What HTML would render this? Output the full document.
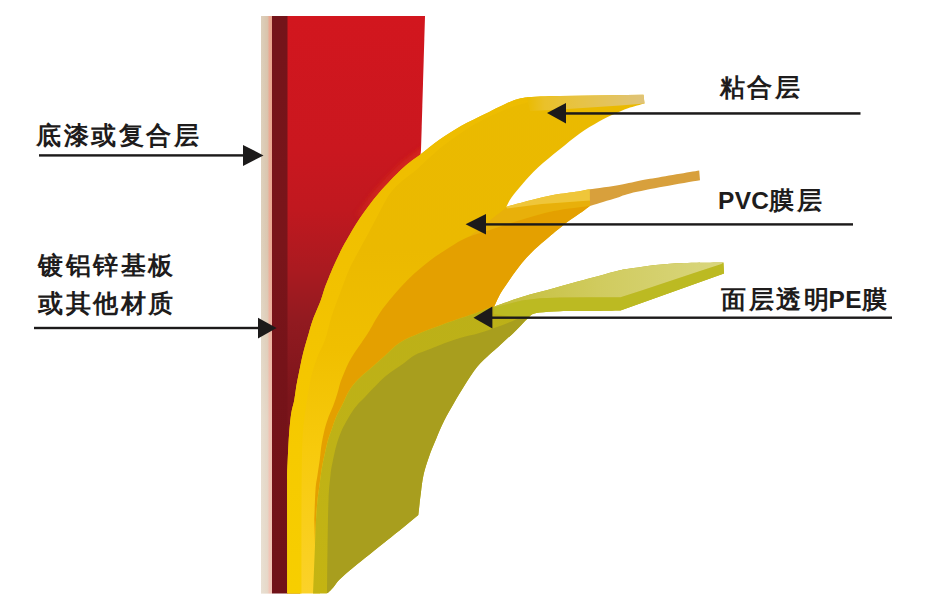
<!DOCTYPE html>
<html><head><meta charset="utf-8"><style>
html,body{margin:0;padding:0;background:#fff;}
body{width:927px;height:605px;position:relative;overflow:hidden;font-family:"Liberation Sans",sans-serif;}
svg{position:absolute;left:0;top:0;filter:blur(0.4px);}
.l{letter-spacing:0.3px;}
.t{position:absolute;color:#1e1c1c;font-size:24.5px;line-height:1;white-space:nowrap;font-weight:bold;letter-spacing:2.6px;}
</style></head><body>
<svg width="927" height="605" viewBox="0 0 927 605">
<defs>
<linearGradient id="gBeige" x1="0" x2="1" y1="0" y2="0">
 <stop offset="0" stop-color="#ddd0bc"/><stop offset="0.6" stop-color="#d9c3ab"/><stop offset="0.75" stop-color="#eaa892"/><stop offset="1" stop-color="#e9a48c"/>
</linearGradient>
<linearGradient id="gRed" x1="0" x2="0" y1="16" y2="594" gradientUnits="userSpaceOnUse">
 <stop offset="0" stop-color="#d2161e"/><stop offset="0.232" stop-color="#ca171f"/><stop offset="0.336" stop-color="#c0181f"/><stop offset="0.44" stop-color="#aa1a20"/><stop offset="0.526" stop-color="#921a20"/><stop offset="0.66" stop-color="#7c151b"/><stop offset="1" stop-color="#74131a"/>
</linearGradient>
<linearGradient id="gDark" x1="0" x2="0" y1="16" y2="594" gradientUnits="userSpaceOnUse">
 <stop offset="0" stop-color="#74141a"/><stop offset="0.4" stop-color="#7a151a"/><stop offset="0.6" stop-color="#761319"/><stop offset="1" stop-color="#701218"/>
</linearGradient>
<linearGradient id="gTip" x1="527" x2="645" y1="0" y2="0" gradientUnits="userSpaceOnUse">
 <stop offset="0" stop-color="#eabb00"/><stop offset="0.15" stop-color="#eac12a"/><stop offset="0.45" stop-color="#e7c345"/><stop offset="1" stop-color="#dfc379"/>
</linearGradient>
<linearGradient id="gYel" x1="0" x2="0" y1="95" y2="594" gradientUnits="userSpaceOnUse">
 <stop offset="0" stop-color="#eaba00"/><stop offset="0.31" stop-color="#ebb900"/><stop offset="0.51" stop-color="#f0bf00"/><stop offset="0.71" stop-color="#f7ca0c"/><stop offset="1" stop-color="#fbd229"/>
</linearGradient>
<linearGradient id="gHL" x1="0" x2="0" y1="95" y2="594" gradientUnits="userSpaceOnUse">
 <stop offset="0" stop-color="#edbc00"/><stop offset="0.41" stop-color="#f2c200"/><stop offset="0.71" stop-color="#f6ca00"/><stop offset="1" stop-color="#f7ce00"/>
</linearGradient>
<linearGradient id="gYG" x1="0" x2="0" y1="300" y2="594" gradientUnits="userSpaceOnUse">
 <stop offset="0" stop-color="#bcb018"/><stop offset="0.5" stop-color="#bfb216"/><stop offset="1" stop-color="#c4b412"/>
</linearGradient>
<linearGradient id="gPEtop" x1="494" x2="724" y1="0" y2="0" gradientUnits="userSpaceOnUse">
 <stop offset="0" stop-color="#c4be3a"/><stop offset="0.45" stop-color="#d0cb5e"/><stop offset="1" stop-color="#d9d67e"/>
</linearGradient>
<filter id="fb" x="-20%" y="-20%" width="140%" height="140%"><feGaussianBlur stdDeviation="2"/></filter>
<clipPath id="cpRed"><path d="M287 16 L421 16 L421 160 L400 240 L287 240 Z"/></clipPath>
<linearGradient id="gGlowFade" x1="0" x2="0" y1="130" y2="235" gradientUnits="userSpaceOnUse"><stop offset="0" stop-color="#fff"/><stop offset="0.6" stop-color="#fff"/><stop offset="1" stop-color="#000"/></linearGradient>
<mask id="mGlow"><rect x="0" y="0" width="927" height="605" fill="url(#gGlowFade)"/></mask>
<linearGradient id="gBeigeV" x1="0" x2="0" y1="16" y2="594" gradientUnits="userSpaceOnUse">
 <stop offset="0" stop-color="#fff" stop-opacity="0"/><stop offset="0.4" stop-color="#fff" stop-opacity="0.05"/><stop offset="0.7" stop-color="#fff" stop-opacity="0.3"/><stop offset="1" stop-color="#fff" stop-opacity="0.35"/>
</linearGradient>
</defs>
<rect x="261" y="16" width="11" height="577.5" fill="url(#gBeige)"/>
<rect x="261" y="16" width="11" height="577.5" fill="url(#gBeigeV)"/>
<path d="M287 16 L425 16 L421 150 L400 300 L300 593.5 L287 593.5 Z" fill="url(#gRed)"/>
<rect x="272" y="16" width="15.5" height="577.5" fill="url(#gDark)"/>
<path d="M360 218 C363.2 213.8 371.8 201.3 379 193 C386.2 184.7 396 174.5 403 168 C410 161.5 415 158.7 421 154 C427 149.3 432.3 144.7 439 140 C445.7 135.3 453.2 130.4 461 126 C468.8 121.6 477.7 117.6 486 113.5 C494.3 109.4 504 104.2 511 101.5 C518 98.8 519.8 98.2 528 97.3 C536.2 96.4 554.7 96.2 560 96" fill="none" stroke="#e03a16" stroke-width="10" stroke-opacity="0.4" filter="url(#fb)" clip-path="url(#cpRed)" mask="url(#mGlow)"/>
<path d="M287.3 593.5 C287.3 584.6 287.2 558.9 287.2 540 C287.2 521.1 287.1 492.8 287.2 480 C287.3 467.2 287.4 468.7 287.6 463 C287.8 457.3 288.1 451.5 288.4 446 C288.7 440.5 288.9 435.5 289.4 430 C289.9 424.5 290.5 418 291.3 413 C292.1 408 293.5 404.5 294.3 400 C295.1 395.5 295.5 390.7 296.3 386.2 C297.1 381.7 298 377.4 298.9 373 C299.8 368.6 300.6 364.1 301.6 359.7 C302.6 355.3 303.7 350.9 304.9 346.5 C306.1 342.1 307.5 337.6 308.8 333.2 C310.1 328.8 310.8 325.5 312.8 320 C314.8 314.5 318.9 305.4 320.9 300 C322.9 294.6 323.6 291.3 324.9 287.6 C326.2 283.9 327.3 281.3 328.8 277.7 C330.3 274.1 332 269.9 333.8 265.8 C335.6 261.7 337.7 257.2 339.8 252.9 C341.9 248.6 343.3 245.8 346.7 240 C350.1 234.2 354.6 225.8 360 218 C365.4 210.2 371.8 201.3 379 193 C386.2 184.7 396 174.5 403 168 C410 161.5 415 158.7 421 154 C427 149.3 432.3 144.7 439 140 C445.7 135.3 453.2 130.4 461 126 C468.8 121.6 477.7 117.6 486 113.5 C494.3 109.4 504 104.2 511 101.5 C518 98.8 519.8 98.2 528 97.3 C536.2 96.4 554.7 96.2 560 96 L643.5 94.7 L644.5 103.5 C641.8 104.3 633 106.5 628 108.3 C623 110.1 619.2 111.9 614.4 114.1 C609.6 116.3 604.8 118.2 599 121.5 C593.2 124.8 586 129 579.4 133.7 C572.8 138.4 566.4 144 559.5 149.6 C552.6 155.2 544.2 161.8 538 167.5 C531.8 173.2 526.9 179 522.5 184 C518.1 189 514.2 193.7 511.5 197.5 C508.8 201.3 507.2 205.2 506.3 206.7 C510.4 205.6 522.6 202.2 530.6 200.2 C538.6 198.2 546.4 196.3 554.3 194.8 C562.2 193.3 572.1 192.3 578 191.4 C583.9 190.5 587.8 189.7 589.8 189.3 L590 206 C589.1 206.6 587 208.2 584.9 209.7 C582.8 211.2 580.5 212.8 577.4 215 C574.2 217.2 570.7 219.3 566 223 C561.3 226.7 554.2 232.6 549 237 C543.8 241.4 539.1 245.2 534.5 249.6 C529.9 254 525.6 258.5 521.5 263.5 C517.4 268.5 513.3 274.4 509.8 279.4 C506.3 284.4 503.2 288.8 500.6 293.3 C498 297.8 495.3 304.4 494.2 306.6 L400 360 L330 500 L320 593.5 Z" fill="url(#gYel)"/>
<path d="M287.3 593.5 C287.3 584.6 287.2 558.9 287.2 540 C287.2 521.1 287.1 492.8 287.2 480 C287.3 467.2 287.4 468.7 287.6 463 C287.8 457.3 288.1 451.5 288.4 446 C288.7 440.5 288.9 435.5 289.4 430 C289.9 424.5 290.5 418 291.3 413 C292.1 408 293.5 404.5 294.3 400 C295.1 395.5 295.5 390.7 296.3 386.2 C297.1 381.7 298 377.4 298.9 373 C299.8 368.6 300.6 364.1 301.6 359.7 C302.6 355.3 303.7 350.9 304.9 346.5 C306.1 342.1 307.5 337.6 308.8 333.2 C310.1 328.8 310.8 325.5 312.8 320 C314.8 314.5 318.9 305.4 320.9 300 C322.9 294.6 323.6 291.3 324.9 287.6 C326.2 283.9 327.3 281.3 328.8 277.7 C330.3 274.1 332 269.9 333.8 265.8 C335.6 261.7 337.7 257.2 339.8 252.9 C341.9 248.6 343.3 245.8 346.7 240 C350.1 234.2 354.6 225.8 360 218 C365.4 210.2 371.8 201.3 379 193 C386.2 184.7 396 174.5 403 168 C410 161.5 415 158.7 421 154 C427 149.3 432.3 144.7 439 140 C445.7 135.3 453.2 130.4 461 126 C468.8 121.6 477.7 117.6 486 113.5 C494.3 109.4 504 104.2 511 101.5 C518 98.8 519.8 98.2 528 97.3 C536.2 96.4 554.7 96.2 560 96 L533 101 C530 101.8 521.3 103.8 515 106 C508.7 108.2 501.7 111 495 114 C488.3 117 481.2 120.5 475 124 C468.8 127.5 463.4 131.3 458 135 C452.6 138.7 447.6 142.3 442.9 146 C438.2 149.7 434.4 153.1 430 157 C425.6 160.9 421.1 165.7 416.4 169.7 C411.7 173.7 406.4 177 402 181 C397.6 185 394 187.8 390 193.5 C386 199.2 381.7 208.2 378 215 C374.3 221.8 371.4 227.7 368 234 C364.6 240.3 360.8 247 357.6 253 C354.4 259 351.9 263.2 348.9 270 C345.9 276.8 342.6 286.3 339.7 294 C336.8 301.7 334.1 308.3 331.7 316 C329.2 323.7 327.4 333 325 340 C322.6 347 319.4 351.3 317 358 C314.6 364.7 312.4 371.3 310.5 380 C308.6 388.7 306.8 400 305.5 410 C304.2 420 303.2 425 302.5 440 C301.8 455 301.7 474.4 301.5 500 C301.3 525.6 301.5 577.9 301.5 593.5 Z" fill="url(#gHL)"/>
<path d="M506.3 207.5 L542 204 L590 200.5 L590 206 C583.9 206.8 565.4 208.6 553.6 211 C541.8 213.4 529.6 217.4 519 220.6 C508.4 223.8 498.4 227.2 489.7 230 C481 232.8 470.8 236.2 467 237.5 L470 236 Z" fill="#e8b00a"/>
<path d="M506.3 206.7 C510.4 205.6 522.6 202.2 530.6 200.2 C538.6 198.2 546.4 196.3 554.3 194.8 C562.2 193.3 572.1 192.3 578 191.4 C583.9 190.5 587.8 189.7 589.8 189.3 L590 200.5 L542 204 L507 208.5 Z" fill="#efc63a"/>
<path d="M527 97.4 L560 96 L643.5 94.7 L644.5 103.5 L620 105.5 L590 107.5 L560 109.5 L530 111 Z" fill="url(#gTip)"/>
<path d="M589.8 189.3 C595.2 188.5 612 186.2 622 184.4 C632 182.7 637.1 181.1 650 178.8 C662.9 176.5 691 171.8 699.2 170.4 L700 180.2 C694 181.2 675.7 184.3 664 186.5 C652.3 188.7 638.2 191.4 630 193.4 C621.8 195.4 619.6 197 614.6 198.6 C609.6 200.2 603.8 201.8 599.7 203 C595.6 204.2 591.6 205.5 590 206 Z" fill="#d8a03c"/>
<path d="M590 206 C589.1 206.6 587 208.2 584.9 209.7 C582.8 211.2 580.5 212.8 577.4 215 C574.2 217.2 570.7 219.3 566 223 C561.3 226.7 554.2 232.6 549 237 C543.8 241.4 539.1 245.2 534.5 249.6 C529.9 254 525.6 258.5 521.5 263.5 C517.4 268.5 513.3 274.4 509.8 279.4 C506.3 284.4 503.2 288.8 500.6 293.3 C498 297.8 495.3 304.4 494.2 306.6 C492.8 307 489.5 307.8 486 309 C482.5 310.2 477.9 312.2 473 314 C468.1 315.8 462 317.6 456.5 319.5 C451 321.4 446.1 323.2 440 325.5 C433.9 327.8 426.7 330.2 420 333 C413.3 335.8 405.9 338.7 400 342.5 C394.1 346.3 389.6 351.6 384.6 356 C379.6 360.4 374.2 365.1 369.8 369 C365.4 372.9 361.4 375.9 357.9 379.6 C354.4 383.3 351.6 386.8 349 391 C346.4 395.2 344.5 400.4 342.3 404.8 C340.1 409.2 337.8 413 336 417.2 C334.2 421.4 332.8 426.2 331.5 430 C330.2 433.8 329.2 435.8 328 440 C326.8 444.2 325.6 450 324.5 455 C323.4 460 322.3 465 321.5 470 C320.7 475 320.2 480 319.5 485 C318.8 490 318.1 494.2 317.5 500 C316.9 505.8 316.4 512.5 316 520 C315.6 527.5 315.2 540.8 315 545 L314.3 520 C314.5 515 315 497.5 315.5 490 C316 482.5 316.8 480.1 317.5 475 C318.2 469.9 319.1 464.4 319.8 459.4 C320.5 454.4 320.7 449.9 321.5 445 C322.3 440.1 323.3 434.7 324.5 430 C325.7 425.3 327 421.2 328.5 417 C330 412.8 332 409 333.5 405 C335 401 336.3 396.8 337.5 393 C338.7 389.2 339.3 385.5 340.5 382 C341.7 378.5 343.1 375.3 344.5 372 C345.9 368.7 347.2 365.3 349 362 C350.8 358.7 352.8 355.3 355 352 C357.2 348.7 359.8 345.2 362 342 C364.2 338.8 365.3 337.4 368.3 332.6 C371.3 327.8 375.7 319.1 379.8 313 C383.9 306.9 388 301.8 393 296 C398 290.2 403.5 283.8 409.6 278 C415.7 272.2 422.8 266.1 429.4 261 C436 255.9 443 251.4 449.3 247.5 C455.6 243.6 460.3 240.4 467 237.5 C473.7 234.6 481 232.8 489.7 230 C498.4 227.2 508.4 223.8 519 220.6 C529.6 217.4 541.8 213.4 553.6 211 C565.4 208.6 583.9 206.8 590 206 Z" fill="#e4a000"/>
<path d="M494.2 306.6 C498.8 305 511.4 300.3 521.8 297.1 C532.1 293.9 544.8 290.8 556.3 287.6 C567.8 284.4 581 280.8 590.8 278.1 C600.6 275.4 608.5 273.1 615 271.5 C621.5 269.9 620.8 269.8 630 268.5 C639.2 267.2 654.4 264.7 670 263.7 C685.6 262.7 714.5 262.8 723.4 262.6 L724 273.5 L620.5 310.5 C615.5 310.6 600.9 310.9 590.8 311 C580.7 311.1 568.5 310.9 560 311.2 C551.5 311.5 544.2 312 539.5 312.6 C534.8 313.2 533.6 313.6 531.5 314.8 C529.4 316 528.6 317.8 526.6 319.8 C524.6 321.8 521.9 324.4 519.6 326.7 C517.3 329 515.1 331.4 512.7 333.7 C510.3 336 507.5 338.2 505 340.5 C502.5 342.8 500 345.2 497.5 347.5 C495 349.8 493.4 350.8 490 354 C486.6 357.2 481.2 361.8 477 367 C472.8 372.2 468.3 379.5 464.5 385.5 C460.7 391.5 457.4 397.1 454 403 C450.6 408.9 446.9 415.1 444 421 C441.1 426.9 438.9 432.3 436.4 438.2 C433.9 444.1 431.2 450.3 429.1 456.4 C427 462.4 425 468.4 423.6 474.5 C422.2 480.6 421.6 487.1 420.9 492.7 C420.1 498.3 419.5 504.3 419.1 508 C418.7 511.7 418.4 513.8 418.3 515 L402.6 528 C399.8 530.2 391.5 536.9 386 541.3 C380.5 545.7 375 550.1 369.5 554.5 C364 558.9 357.9 563.6 353 567.7 C348.1 571.8 343.1 576 339.8 579.3 C336.5 582.6 335.1 585.3 333.2 587.5 C331.3 589.7 329.5 591.5 328.3 592.5 C327.1 593.5 326.4 593.3 326 593.5 L313 593.5 L315 545 C315.2 540.8 315.6 527.5 316 520 C316.4 512.5 316.9 505.8 317.5 500 C318.1 494.2 318.8 490 319.5 485 C320.2 480 320.7 475 321.5 470 C322.3 465 323.4 460 324.5 455 C325.6 450 326.8 444.2 328 440 C329.2 435.8 330.2 433.8 331.5 430 C332.8 426.2 334.2 421.4 336 417.2 C337.8 413 340.1 409.2 342.3 404.8 C344.5 400.4 346.4 395.2 349 391 C351.6 386.8 354.4 383.3 357.9 379.6 C361.4 375.9 365.4 372.9 369.8 369 C374.2 365.1 379.6 360.4 384.6 356 C389.6 351.6 394.1 346.3 400 342.5 C405.9 338.7 413.3 335.8 420 333 C426.7 330.2 433.9 327.8 440 325.5 C446.1 323.2 451 321.4 456.5 319.5 C462 317.6 468.1 315.8 473 314 C477.9 312.2 482.5 310.2 486 309 C489.5 307.8 492.8 307 494.2 306.6 Z" fill="url(#gYG)"/>
<path d="M494.2 307.5 L521.8 300.6 L540 298.2 L560 297.4 L590.8 297.3 L620.5 297.3 L640 291 L670 281 L700 271 L721.5 264 L723.4 262.6 L724 273.5 L620.5 310.5 C615.5 310.6 600.9 310.9 590.8 311 C580.7 311.1 568.5 310.9 560 311.2 C551.5 311.5 544.2 312 539.5 312.6 C534.8 313.2 533.6 313.6 531.5 314.8 C529.4 316 527.4 319 526.6 319.8 L520 318 L494.2 314 Z" fill="#bcba22"/>
<path d="M327 593.5 C327.1 586.2 327.2 565.6 327.5 550 C327.8 534.4 328 512.5 328.5 500 C329 487.5 329.8 481.7 330.5 475 C331.2 468.3 332 465 333 460 C334 455 335.2 449.7 336.5 445 C337.8 440.3 339.4 435.8 341 432 C342.6 428.2 344.2 425.3 346 422 C347.8 418.7 350 415 352 412 C354 409 355.8 406.5 358 404 C360.2 401.5 362.2 399.9 365 397 C367.8 394.1 371.7 389.9 375 386.6 C378.3 383.3 381.3 379.8 384.6 377 C387.9 374.2 391.3 372 394.6 369.6 C397.9 367.2 401.1 365.1 404.5 362.7 C407.9 360.3 410.8 357.3 415 355 C419.2 352.7 425 351 430 349 C435 347 440 344.8 445 343 C450 341.2 454.3 339.7 460 338 C465.7 336.3 472.7 335 479.4 333 C486.1 331 493.2 328.5 500 326 C506.8 323.5 516.7 319.3 520 318 L527 318 C525.4 320.9 521.9 324.4 519.6 326.7 C517.3 329 515.1 331.4 512.7 333.7 C510.3 336 507.5 338.2 505 340.5 C502.5 342.8 500 345.2 497.5 347.5 C495 349.8 493.4 350.8 490 354 C486.6 357.2 481.2 361.8 477 367 C472.8 372.2 468.3 379.5 464.5 385.5 C460.7 391.5 457.4 397.1 454 403 C450.6 408.9 446.9 415.1 444 421 C441.1 426.9 438.9 432.3 436.4 438.2 C433.9 444.1 431.2 450.3 429.1 456.4 C427 462.4 425 468.4 423.6 474.5 C422.2 480.6 421.6 487.1 420.9 492.7 C420.1 498.3 419.5 504.3 419.1 508 C418.7 511.7 418.4 513.8 418.3 515 L402.6 528 C399.8 530.2 391.5 536.9 386 541.3 C380.5 545.7 375 550.1 369.5 554.5 C364 558.9 357.9 563.6 353 567.7 C348.1 571.8 343.1 576 339.8 579.3 C336.5 582.6 335.1 585.3 333.2 587.5 C331.3 589.7 329.5 591.5 328.3 592.5 C327.1 593.5 326.4 593.3 326 593.5 Z" fill="#a89e1e"/>
<path d="M494.2 306.6 C498.8 305 511.4 300.3 521.8 297.1 C532.1 293.9 544.8 290.8 556.3 287.6 C567.8 284.4 581 280.8 590.8 278.1 C600.6 275.4 608.5 273.1 615 271.5 C621.5 269.9 620.8 269.8 630 268.5 C639.2 267.2 654.4 264.7 670 263.7 C685.6 262.7 714.5 262.8 723.4 262.6 L721.5 264 L700 271 L670 281 L640 291 L620.5 297.3 L590.8 297.3 L560 297.4 L540 298.2 L521.8 300.6 L494.2 307.5 Z" fill="url(#gPEtop)"/>
<!-- arrows -->
<g fill="#1c1a1a" stroke="none">
 <rect x="39" y="154.2" width="206" height="2.4"/>
 <path d="M263.5 155.4 L243 145 L243 166 Z"/>
 <rect x="34" y="326.8" width="226" height="2.4"/>
 <path d="M276.6 327.9 L258 317.8 L258 338.4 Z"/>
 <rect x="564" y="112.2" width="296.5" height="2.5"/>
 <path d="M547 113 L566 103 L566 123.4 Z"/>
 <rect x="484" y="223.2" width="369" height="2.4"/>
 <path d="M465.6 224.2 L486 213.9 L486 234.5 Z"/>
 <rect x="490" y="316.5" width="402" height="2.4"/>
 <path d="M473.5 317.7 L492.4 306.6 L492.4 328.5 Z"/>
</g>
</svg>
<div class="t" id="t1" style="left:36px;top:123.5px;">底漆或复合层</div>
<div class="t" id="t2" style="left:38px;top:253.5px;">镀铝锌基板</div>
<div class="t" id="t3" style="left:38px;top:292px;">或其他材质</div>
<div class="t" id="t4" style="left:719.5px;top:75.5px;">粘合层</div>
<div class="t" id="t5" style="left:718px;top:189px;"><span class="l">PVC</span>膜层</div>
<div class="t" id="t6" style="left:721px;top:288px;">面层透明<span class="l" style="margin-left:-3px;letter-spacing:0.6px">PE</span>膜</div>
</body></html>
